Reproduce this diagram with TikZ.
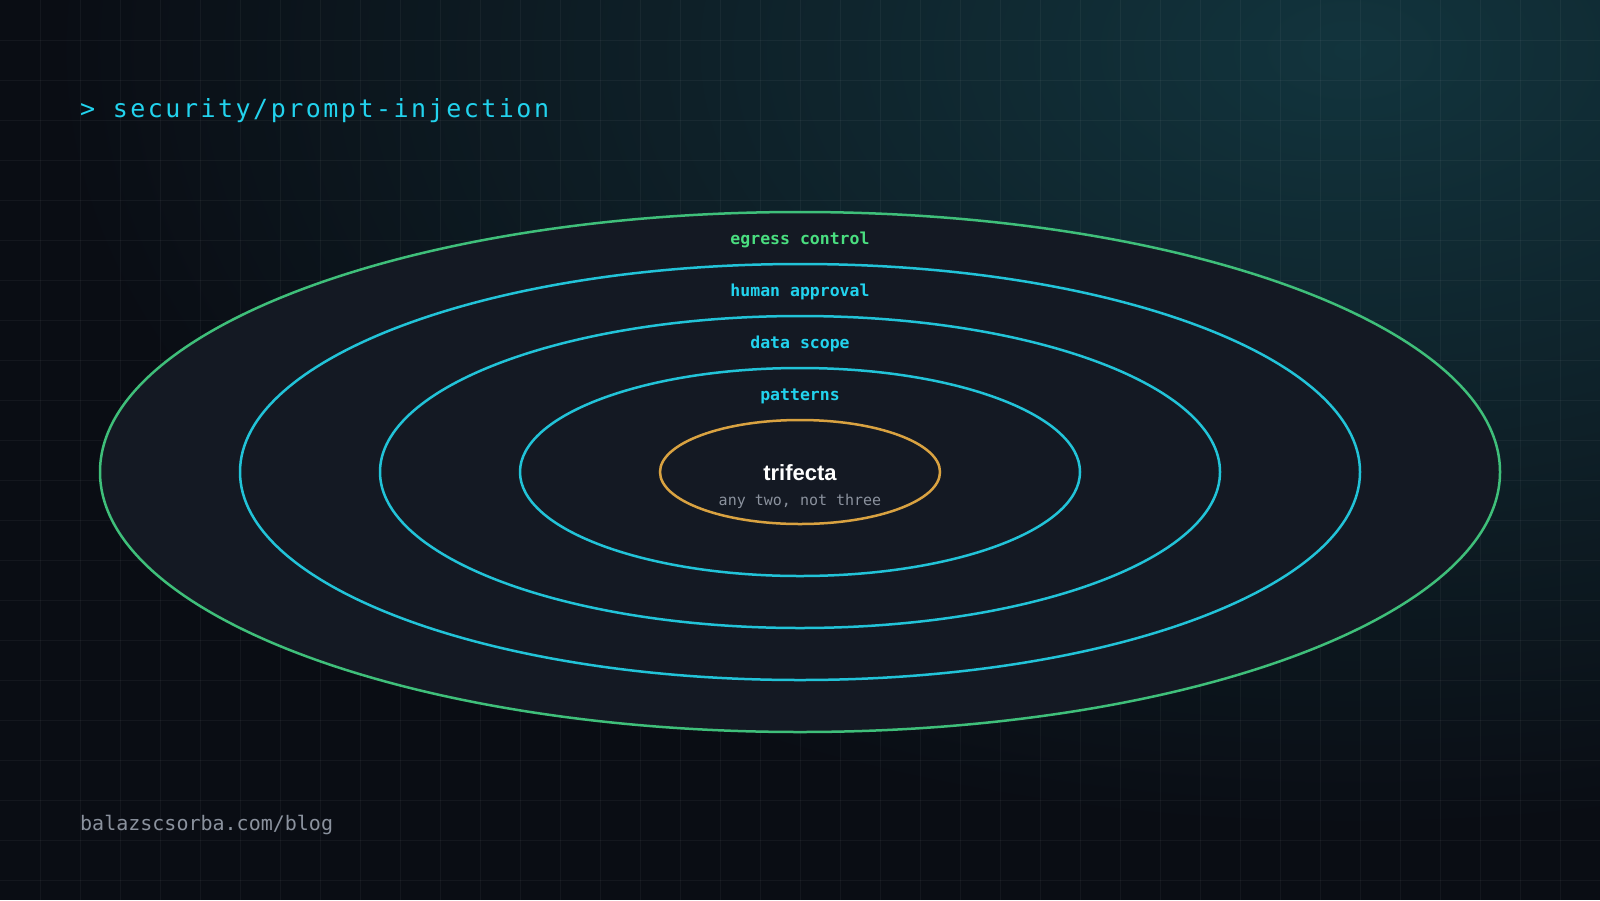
\documentclass[tikz,border=0pt]{standalone}
\usepackage{fontspec}
\setmonofont{DejaVu Sans Mono}
\setsansfont{Liberation Sans}
\usetikzlibrary{positioning}
\usetikzlibrary{shapes.geometric}

\definecolor{bgbase}{HTML}{0A0D14}
\definecolor{bgglow}{HTML}{12343D}
\definecolor{ringfill}{HTML}{141923}
\definecolor{ringgreen}{HTML}{3FBF7A}
\definecolor{textgreen}{HTML}{4ADE80}
\definecolor{ringcyan}{HTML}{22C3D8}
\definecolor{textcyan}{HTML}{22D3EE}
\definecolor{ringamber}{HTML}{D9A241}
\definecolor{mutedgray}{HTML}{8B929E}

\tikzset{
  gridline/.style={white, opacity=0.045, line width=1pt},
  ring/.style={ellipse, draw, fill=ringfill, line width=2.5pt, inner sep=0pt},
  layer label/.style={font=\ttfamily\bfseries\fontsize{16.5}{20}\selectfont, anchor=base, inner sep=0pt},
}

\begin{document}
\begin{tikzpicture}[x=1pt, y=-1pt]
\useasboundingbox (0,0) rectangle (1600,900);
% background with glow in the top right corner
\fill[bgbase] (0,0) rectangle (1600,900);
\begin{scope}
\clip (0,0) rectangle (1600,900);
\shade[inner color=bgglow, outer color=bgbase] (1350,50) ellipse (1300pt and 780pt);
\end{scope}
\foreach \gx in {40,80,...,1560} \draw[gridline] (\gx,0) -- (\gx,900);
\foreach \gy in {40,80,...,880} \draw[gridline] (0,\gy) -- (1600,\gy);

% the rings, outside in
\node[ring, draw=ringgreen, minimum width=1400pt, minimum height=520pt] (egress) at (800,472) {};
\node[ring, draw=ringcyan, minimum width=1120pt, minimum height=416pt] (approval) at (800,472) {};
\node[ring, draw=ringcyan, minimum width=840pt, minimum height=312pt] (scope) at (800,472) {};
\node[ring, draw=ringcyan, minimum width=560pt, minimum height=208pt] (patterns) at (800,472) {};
\node[ring, draw=ringamber, minimum width=280pt, minimum height=104pt] (trifecta) at (800,472) {};

\node[layer label, text=textgreen] (egress label) at ([yshift=-34pt]egress.north) {egress control};
\node[layer label, text=textcyan] (approval label) at ([yshift=-34pt]approval.north) {human approval};
\node[layer label, text=textcyan] (scope label) at ([yshift=-34pt]scope.north) {data scope};
\node[layer label, text=textcyan] (patterns label) at ([yshift=-34pt]patterns.north) {patterns};

\node[font=\sffamily\bfseries\fontsize{22}{26}\selectfont, text=white, anchor=base, inner sep=0pt] (trifecta title) at ([yshift=-8pt]trifecta.center) {trifecta};
\node[font=\ttfamily\fontsize{15}{18}\selectfont, text=mutedgray, anchor=base, inner sep=0pt] (trifecta note) at ([yshift=-33pt]trifecta.center) {any two, not three};

\node[font=\ttfamily\fontsize{25}{29}\selectfont, text=textcyan, anchor=base west, inner sep=0pt] (path title) at (80,117) {\addfontfeature{LetterSpace=10}> security/prompt-injection};
\node[font=\ttfamily\fontsize{20}{24}\selectfont, text=mutedgray, anchor=base west, inner sep=0pt] (blog url) at (80,830) {balazscsorba.com/blog};
\end{tikzpicture}
\end{document}
